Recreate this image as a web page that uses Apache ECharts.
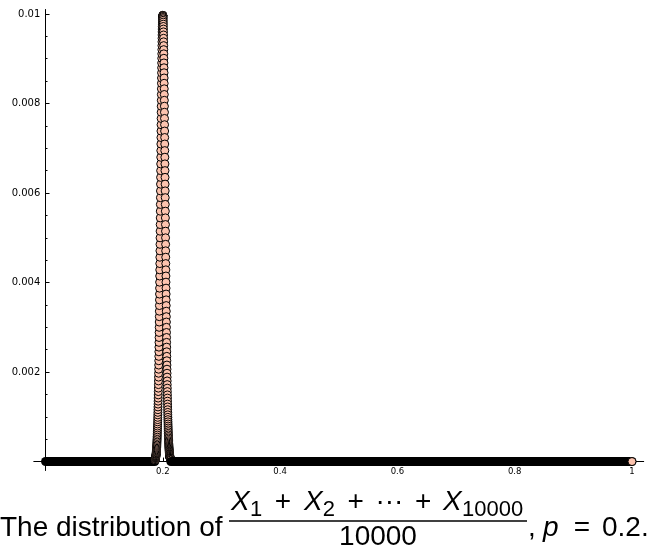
<!DOCTYPE html>
<html><head><meta charset="utf-8">
<script src="https://cdn.jsdelivr.net/npm/echarts@6/dist/echarts.min.js"></script>
<style>html,body{margin:0;padding:0;background:#fff}#c{width:652px;height:551px}</style>
</head><body><div id="c"></div>
<script>
// x = k/10000 around the peak
const peakX = [
0.1865,0.1866,0.1867,0.1868,0.1869,0.187,0.1871,0.1872,0.1873,0.1874,0.1875,0.1876,0.1877,0.1878,0.1879,
0.188,0.1881,0.1882,0.1883,0.1884,0.1885,0.1886,0.1887,0.1888,0.1889,
0.189,0.1891,0.1892,0.1893,0.1894,0.1895,0.1896,0.1897,0.1898,0.1899,
0.19,0.1901,0.1902,0.1903,0.1904,0.1905,0.1906,0.1907,0.1908,0.1909,
0.191,0.1911,0.1912,0.1913,0.1914,0.1915,0.1916,0.1917,0.1918,0.1919,
0.192,0.1921,0.1922,0.1923,0.1924,0.1925,0.1926,0.1927,0.1928,0.1929,
0.193,0.1931,0.1932,0.1933,0.1934,0.1935,0.1936,0.1937,0.1938,0.1939,
0.194,0.1941,0.1942,0.1943,0.1944,0.1945,0.1946,0.1947,0.1948,0.1949,
0.195,0.1951,0.1952,0.1953,0.1954,0.1955,0.1956,0.1957,0.1958,0.1959,
0.196,0.1961,0.1962,0.1963,0.1964,0.1965,0.1966,0.1967,0.1968,0.1969,
0.197,0.1971,0.1972,0.1973,0.1974,0.1975,0.1976,0.1977,0.1978,0.1979,
0.198,0.1981,0.1982,0.1983,0.1984,0.1985,0.1986,0.1987,0.1988,0.1989,
0.199,0.1991,0.1992,0.1993,0.1994,0.1995,0.1996,0.1997,0.1998,0.1999,
0.2,0.2001,0.2002,0.2003,0.2004,0.2005,0.2006,0.2007,0.2008,0.2009,
0.201,0.2011,0.2012,0.2013,0.2014,0.2015,0.2016,0.2017,0.2018,0.2019,
0.202,0.2021,0.2022,0.2023,0.2024,0.2025,0.2026,0.2027,0.2028,0.2029,
0.203,0.2031,0.2032,0.2033,0.2034,0.2035,0.2036,0.2037,0.2038,0.2039,
0.204,0.2041,0.2042,0.2043,0.2044,0.2045,0.2046,0.2047,0.2048,0.2049,
0.205,0.2051,0.2052,0.2053,0.2054,0.2055,0.2056,0.2057,0.2058,0.2059,
0.206,0.2061,0.2062,0.2063,0.2064,0.2065,0.2066,0.2067,0.2068,0.2069,
0.207,0.2071,0.2072,0.2073,0.2074,0.2075,0.2076,0.2077,0.2078,0.2079,
0.208,0.2081,0.2082,0.2083,0.2084,0.2085,0.2086,0.2087,0.2088,0.2089,
0.209,0.2091,0.2092,0.2093,0.2094,0.2095,0.2096,0.2097,0.2098,0.2099,
0.21,0.2101,0.2102,0.2103,0.2104,0.2105,0.2106,0.2107,0.2108,0.2109,
0.211,0.2111,0.2112,0.2113,0.2114,0.2115,0.2116,0.2117,0.2118,0.2119,
0.212,0.2121,0.2122,0.2123,0.2124,0.2125,0.2126,0.2127,0.2128,0.2129,0.213,0.2131,0.2132,0.2133,0.2134,0.2135];
// probabilities read around the peak
const peakY = [
0.0000335,0.0000365,0.0000396,0.0000430,0.0000467,0.0000507,0.0000550,0.0000596,0.0000645,0.0000698,
0.0000755,0.0000816,0.0000882,0.0000952,0.0001027,
0.000111,0.000119,0.000129,0.000138,0.000149,0.000160,0.000172,0.000184,0.000198,0.000212,
0.000227,0.000243,0.000260,0.000279,0.000298,0.000318,0.000339,0.000362,0.000386,0.000411,
0.000438,0.000466,0.000496,0.000527,0.000560,0.000594,0.000630,0.000668,0.000708,0.000750,
0.000793,0.000839,0.000887,0.000936,0.000988,0.001043,0.001099,0.001158,0.001220,0.001283,
0.001349,0.001418,0.001489,0.001563,0.001640,0.001719,0.001801,0.001886,0.001973,0.002063,
0.002156,0.002252,0.002350,0.002452,0.002556,0.002663,0.002772,0.002884,0.002999,0.003117,
0.003237,0.003359,0.003485,0.003612,0.003742,0.003874,0.004008,0.004145,0.004283,0.004423,
0.004565,0.004708,0.004853,0.004999,0.005147,0.005295,0.005444,0.005594,0.005745,0.005896,
0.006047,0.006198,0.006349,0.006500,0.006650,0.006799,0.006947,0.007094,0.007240,0.007384,
0.007526,0.007666,0.007804,0.007939,0.008071,0.008201,0.008328,0.008451,0.008570,0.008686,
0.008798,0.008906,0.009010,0.009109,0.009203,0.009293,0.009378,0.009457,0.009531,0.009600,
0.009663,0.009721,0.009773,0.009818,0.009858,0.009892,0.009920,0.009942,0.009958,0.009967,
0.009970,
0.009967,0.009958,0.009942,0.009920,0.009892,0.009858,0.009818,0.009773,0.009721,0.009663,
0.009600,0.009531,0.009457,0.009378,0.009293,0.009203,0.009109,0.009010,0.008906,0.008798,
0.008686,0.008570,0.008451,0.008328,0.008201,0.008071,0.007939,0.007804,0.007666,0.007526,
0.007384,0.007240,0.007094,0.006947,0.006799,0.006650,0.006500,0.006349,0.006198,0.006047,
0.005896,0.005745,0.005594,0.005444,0.005295,0.005147,0.004999,0.004853,0.004708,0.004565,
0.004423,0.004283,0.004145,0.004008,0.003874,0.003742,0.003612,0.003485,0.003359,0.003237,
0.003117,0.002999,0.002884,0.002772,0.002663,0.002556,0.002452,0.002350,0.002252,0.002156,
0.002063,0.001973,0.001886,0.001801,0.001719,0.001640,0.001563,0.001489,0.001418,0.001349,
0.001283,0.001220,0.001158,0.001099,0.001043,0.000988,0.000936,0.000887,0.000839,0.000793,
0.000750,0.000708,0.000668,0.000630,0.000594,0.000560,0.000527,0.000496,0.000466,0.000438,
0.000411,0.000386,0.000362,0.000339,0.000318,0.000298,0.000279,0.000260,0.000243,0.000227,
0.000212,0.000198,0.000184,0.000172,0.000160,0.000149,0.000138,0.000129,0.000119,0.000111,
0.0001027,0.0000952,0.0000882,0.0000816,0.0000755,0.0000698,0.0000645,0.0000596,0.0000550,0.0000507,
0.0000467,0.0000430,0.0000396,0.0000365,0.0000335];
// runs of (visually) zero probability: [x start, x end]
const zeroLeftRun = [0, 0.1864];
const zeroRightRun = [0.2136, 1];
const zeroValue = 0;
const lastPoint = [1, 0];

const xTicks = [0.2, 0.4, 0.6, 0.8, 1];
const xTickLabels = ['0.2', '0.4', '0.6', '0.8', '1'];
const yTicks = [0.002, 0.004, 0.006, 0.008, 0.01];
const yTickLabels = ['0.002', '0.004', '0.006', '0.008', '0.01'];
const yMinorTicks = [0.0005,0.001,0.0015,0.0025,0.003,0.0035,0.0045,0.005,0.0055,0.0065,0.007,0.0075,0.0085,0.009,0.0095];

const chart = echarts.init(document.getElementById('c'), null, {renderer: 'canvas'});
const peakData = peakX.map((x, i) => [x, peakY[i]]);
const FILL = '#fcc3ae';
const tickFont = 'DejaVu Sans';
const TF = '"Liberation Sans"';

function txt(x, y, s, size, opts) {
  opts = opts || {};
  return {type: 'text', x: x, y: y, silent: true, style: {
    text: s, font: (opts.italic ? 'italic ' : '') + size + 'px ' + TF, fill: '#000',
    textAlign: opts.align || 'left', textVerticalAlign: 'middle'}};
}

chart.setOption({
  animation: false,
  backgroundColor: '#fff',
  grid: {left: 33.8, top: 9.5, width: 609.9, height: 461, containLabel: false, outerBoundsMode: 'none'},
  xAxis: {
    type: 'value', min: -0.02, max: 1.02,
    axisLine: {onZero: true, lineStyle: {color: '#000', width: 1}},
    axisTick: {show: true, customValues: xTicks, length: 4, inside: true, lineStyle: {color: '#000'}},
    axisLabel: {customValues: xTicks, margin: -3.5, fontSize: 8.5, fontFamily: tickFont, color: '#000',
      formatter: v => xTickLabels[xTicks.indexOf(v)] ?? ''},
    splitLine: {show: false}
  },
  yAxis: [{
    type: 'value', min: -0.0002, max: 0.0101, position: 'left',
    axisLine: {onZero: true, lineStyle: {color: '#000', width: 1}},
    axisTick: {show: true, customValues: yTicks, length: 4, inside: true, lineStyle: {color: '#000'}},
    axisLabel: {customValues: yTicks, margin: -6.5, fontSize: 10, fontFamily: tickFont, color: '#000',
      formatter: v => yTickLabels[yTicks.indexOf(v)] ?? ''},
    splitLine: {show: false}
  }, {
    type: 'value', min: -0.0002, max: 0.0101, position: 'left', offset: -11.7,
    axisLine: {show: false, onZero: false},
    axisTick: {show: true, customValues: yMinorTicks, length: 2, inside: true, lineStyle: {color: '#000'}},
    axisLabel: {show: false},
    splitLine: {show: false}
  }],
  series: [
    {type: 'line', silent: true, symbol: 'none', z: 1, data: [[zeroLeftRun[0], zeroValue], [zeroLeftRun[1], zeroValue]],
     lineStyle: {color: '#000', width: 9, cap: 'round'}},
    {type: 'scatter', silent: true, large: false, progressive: 0, symbol: 'circle', symbolSize: 8, z: 2,
     data: peakData, itemStyle: {color: FILL, borderColor: '#000', borderWidth: 1, opacity: 1}},
    {type: 'line', silent: true, symbol: 'none', z: 3, data: [[zeroRightRun[0], zeroValue], [zeroRightRun[1], zeroValue]],
     lineStyle: {color: '#000', width: 9, cap: 'round'}},
    {type: 'scatter', silent: true, symbol: 'circle', symbolSize: 8, z: 4, data: [lastPoint],
     itemStyle: {color: FILL, borderColor: '#000', borderWidth: 1, opacity: 1}}
  ],
  graphic: [
    txt(0, 528, 'The distribution of', 28),
    txt(231, 502, 'X', 28, {italic: true}),
    txt(250, 510, '1', 22),
    txt(282.9, 502, '+', 28, {align: 'center'}),
    txt(304.1, 502, 'X', 28, {italic: true}),
    txt(322.8, 510, '2', 22),
    txt(355.7, 502, '+', 28, {align: 'center'}),
    txt(389.4, 502, '\u00b7\u00b7\u00b7', 28, {align: 'center'}),
    txt(423.1, 502, '+', 28, {align: 'center'}),
    txt(443, 502, 'X', 28, {italic: true}),
    txt(462, 510, '10000', 22),
    {type: 'line', silent: true, shape: {x1: 229, y1: 521, x2: 527, y2: 521}, style: {stroke: '#000', lineWidth: 1.5}},
    txt(378, 537, '10000', 28, {align: 'center'}),
    txt(528, 528, ',', 28),
    txt(543, 528, 'p', 28, {italic: true}),
    txt(582, 528, '=', 28, {align: 'center'}),
    txt(602, 528, '0.2.', 28)
  ]
});
</script></body></html>
